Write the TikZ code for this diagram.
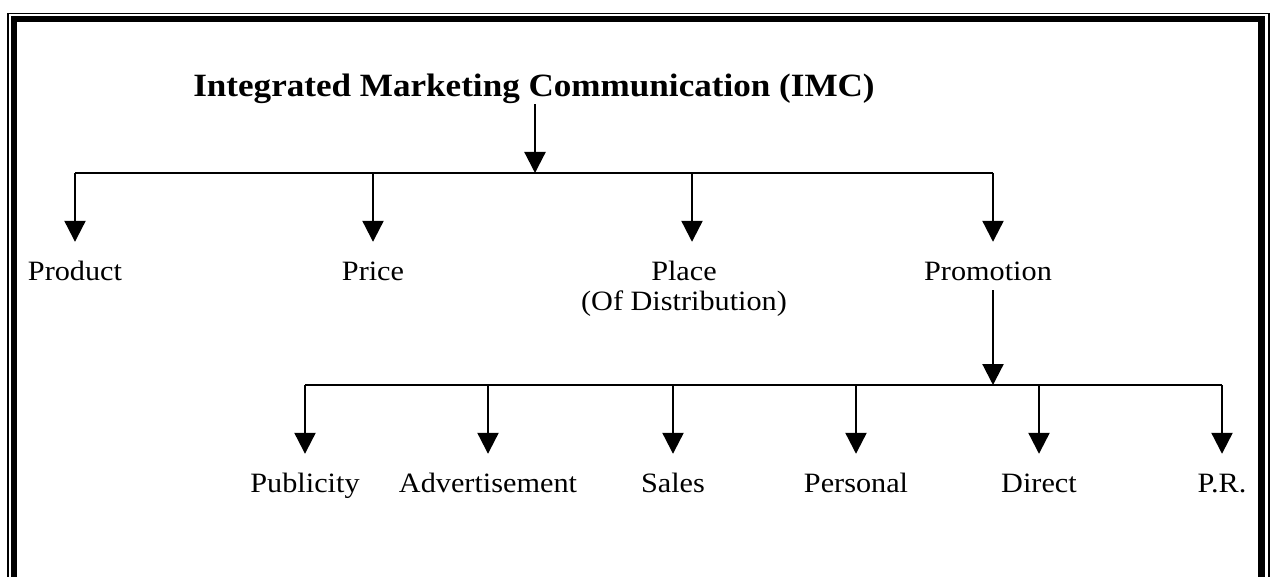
\documentclass[tikz,border=0pt]{standalone}
\usepackage{fontspec}
\setmainfont{Liberation Serif}[FakeStretch=1.08]
\usetikzlibrary{arrows.meta}
\tikzset{
	x=1pt, y=-1pt, % one unit per pixel, y going down
	every node/.style={font=\fontsize{28}{31}\selectfont},
	link/.style={line width=2.2pt},
	pointer/.style={link, -{Triangle[width=21pt,length=21pt]}},
	branch/.style={pointer, shorten >=16pt}, % stop short of the label text
	item/.style={inner sep=2pt, text height=20pt, text depth=8pt},
	heading/.style={font=\fontsize{32.5}{36}\selectfont\bfseries, inner sep=0pt},
}

\begin{document}
\begin{tikzpicture}
	\useasboundingbox (0,0) rectangle (1273,577);

	% double frame, open at the bottom
	\begin{scope}
		\clip (0,0) rectangle (1273,577);
		\draw[line width=6.5pt] (14,19) rectangle (1261.5,620);
		\draw[line width=1.5pt] (7.75,13.5) rectangle (1268.75,630);
	\end{scope}

	\node[heading, anchor=base] (imc) at (534,97) {Integrated Marketing Communication (IMC)};

	% the four P's
	\coordinate (top) at (535,173);
	\coordinate (mix1) at (75,173);
	\coordinate (mix2) at (373,173);
	\coordinate (mix3) at (692,173);
	\coordinate (mix4) at (993,173);

	\node[item, anchor=base] (product) at (75,280) {Product};
	\node[item, anchor=base] (price) at (373,280) {Price};
	\node[item, anchor=base] (place) at (684,280) {Place};
	\node[anchor=base] (distribution) at (684,310) {(Of Distribution)};
	\node[item, anchor=base] (promotion) at (988,280) {Promotion};

	\draw[pointer] (imc.south -| top) -- (top);
	\draw[link] (mix1) -- (mix4);
	\draw[branch] (mix1) -- (product.north);
	\draw[branch] (mix2) -- (price.north);
	\draw[branch] (mix3) -- (mix3 |- place.north);
	\draw[branch] (mix4) -- (mix4 |- promotion.north);

	% promotion tools
	\coordinate (sub) at (993,385);
	\coordinate (tool1) at (305,385);
	\coordinate (tool2) at (488,385);
	\coordinate (tool3) at (673,385);
	\coordinate (tool4) at (856,385);
	\coordinate (tool5) at (1039,385);
	\coordinate (tool6) at (1222,385);

	\node[item, anchor=base] (publicity) at (305,492) {Publicity};
	\node[item, anchor=base] (advert) at (488,492) {Advertisement};
	\node[item, anchor=base] (sales) at (673,492) {Sales};
	\node[item, anchor=base] (personal) at (856,492) {Personal};
	\node[item, anchor=base] (direct) at (1039,492) {Direct};
	\node[item, anchor=base] (pr) at (1222,492) {P.R.};

	\draw[pointer] (promotion.south -| sub) -- (sub);
	\draw[link] (tool1) -- (tool6);
	\draw[branch] (tool1) -- (publicity.north);
	\draw[branch] (tool2) -- (advert.north);
	\draw[branch] (tool3) -- (sales.north);
	\draw[branch] (tool4) -- (personal.north);
	\draw[branch] (tool5) -- (direct.north);
	\draw[branch] (tool6) -- (pr.north);
\end{tikzpicture}
\end{document}
